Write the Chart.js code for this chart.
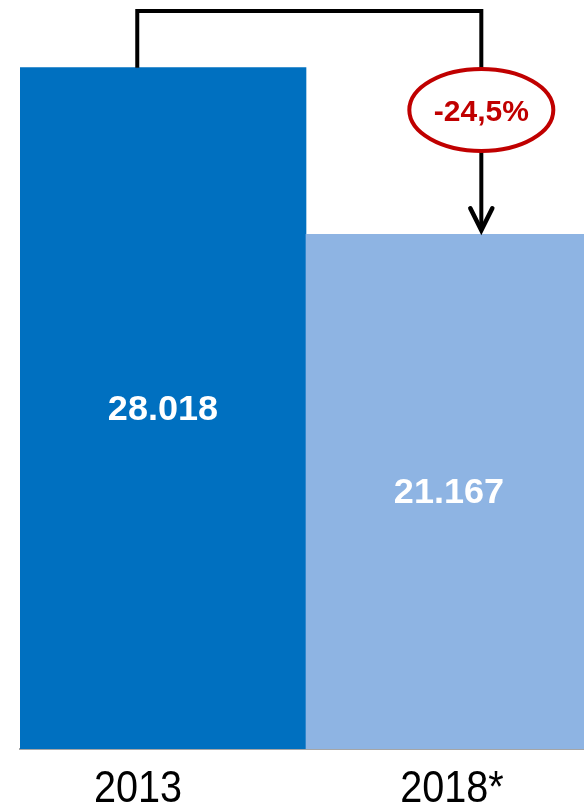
<!DOCTYPE html>
<html>
<head>
<meta charset="utf-8">
<script src="https://cdn.jsdelivr.net/npm/chart.js@4.4.1/dist/chart.umd.min.js"></script>
<style>
  html, body { margin: 0; padding: 0; background: #fff; overflow: hidden; }
  #wrap { width: 600px; height: 811px; }
</style>
</head>
<body>
<div id="wrap"><canvas id="chart"></canvas></div>
<script>
    // data
    const years = ['2013', '2018*'];
    const values = [28018, 21167];
    const valueLabels = ['28.018', '21.167'];
    const barColors = ['#0070C0', '#8EB4E3'];
    const changeLabel = '-24,5%';

    const FONT = '"Liberation Sans", Arial, sans-serif';

    // text squeezed horizontally to look more like Calibri
    const drawText = (ctx, text, x, y, font, sx) => {
        ctx.save();
        ctx.font = font;
        ctx.translate(x, y);
        ctx.scale(sx, 1);
        ctx.fillText(text, 0, 0);
        ctx.restore();
    };

    // category labels, bar values, bracket arrow + ellipse
    const annotations = {
        id: 'annotations',
        afterDatasetsDraw(chart) {
            const ctx = chart.ctx;
            const meta = chart.getDatasetMeta(0);
            const xScale = chart.scales.x;
            const b1 = meta.data[0], b2 = meta.data[1];
            const x1 = b1.x - b1.width * 0.09;
            const x2 = b2.x + b2.width * 0.113;
            const topY = 11;

            ctx.save();
            ctx.textAlign = 'center';

            // category labels (offset like in the original slide)
            const labelShift = [-25, 3];
            ctx.fillStyle = '#000';
            ctx.textBaseline = 'alphabetic';
            years.forEach((y, i) => {
                drawText(ctx, y, xScale.getPixelForTick(i) + labelShift[i], xScale.top + 53,
                    '44px ' + FONT, 0.9);
            });

            // values inside the bars
            ctx.fillStyle = '#ffffff';
            ctx.textBaseline = 'middle';
            meta.data.forEach((bar, i) => {
                drawText(ctx, valueLabels[i], bar.x, (bar.y + bar.base) / 2 + 2,
                    'bold 35px ' + FONT, 1.03);
            });

            ctx.strokeStyle = '#000';
            ctx.lineWidth = 4;
            ctx.lineCap = 'butt';
            ctx.lineJoin = 'miter';

            const ey = 110, rx = 72, ry = 41;
            ctx.beginPath();
            ctx.moveTo(x1, b1.y);
            ctx.lineTo(x1, topY);
            ctx.lineTo(x2, topY);
            ctx.lineTo(x2, ey - ry);
            ctx.stroke();

            const tipY = b2.y - 4;
            ctx.beginPath();
            ctx.moveTo(x2, ey + ry);
            ctx.lineTo(x2, tipY);
            ctx.stroke();

            ctx.lineCap = 'round';
            ctx.lineWidth = 4.5;
            ctx.beginPath();
            ctx.moveTo(x2 - 11, tipY - 22);
            ctx.lineTo(x2, tipY);
            ctx.lineTo(x2 + 11, tipY - 22);
            ctx.stroke();

            // ellipse
            ctx.fillStyle = '#ffffff';
            ctx.strokeStyle = '#C00000';
            ctx.lineWidth = 4;
            ctx.beginPath();
            ctx.ellipse(x2, ey, rx, ry, 0, 0, Math.PI * 2);
            ctx.fill();
            ctx.stroke();

            ctx.fillStyle = '#C00000';
            drawText(ctx, changeLabel, x2, ey + 3, 'bold 30px ' + FONT, 1.0);
            ctx.restore();
        }
    };

    new Chart(document.getElementById('chart'), {
        type: 'bar',
        data: {
            labels: years,
            datasets: [{
                data: values,
                backgroundColor: barColors,
                borderWidth: 0,
                categoryPercentage: 1.0,
                barPercentage: 1.0
            }]
        },
        options: {
            responsive: true,
            maintainAspectRatio: false,
            animation: false,
            layout: { padding: { left: 20, right: 8, top: 0, bottom: 0 } },
            plugins: {
                legend: { display: false },
                tooltip: { enabled: false }
            },
            scales: {
                x: {
                    grid: { display: false, drawTicks: false },
                    border: { display: true, color: '#A6A6A6', width: 2 },
                    ticks: { display: false },
                    afterFit(scale) { scale.height = 62; }
                },
                y: {
                    display: false,
                    min: 0,
                    max: 30800
                }
            }
        },
        plugins: [annotations]
    });
</script>
</body>
</html>
